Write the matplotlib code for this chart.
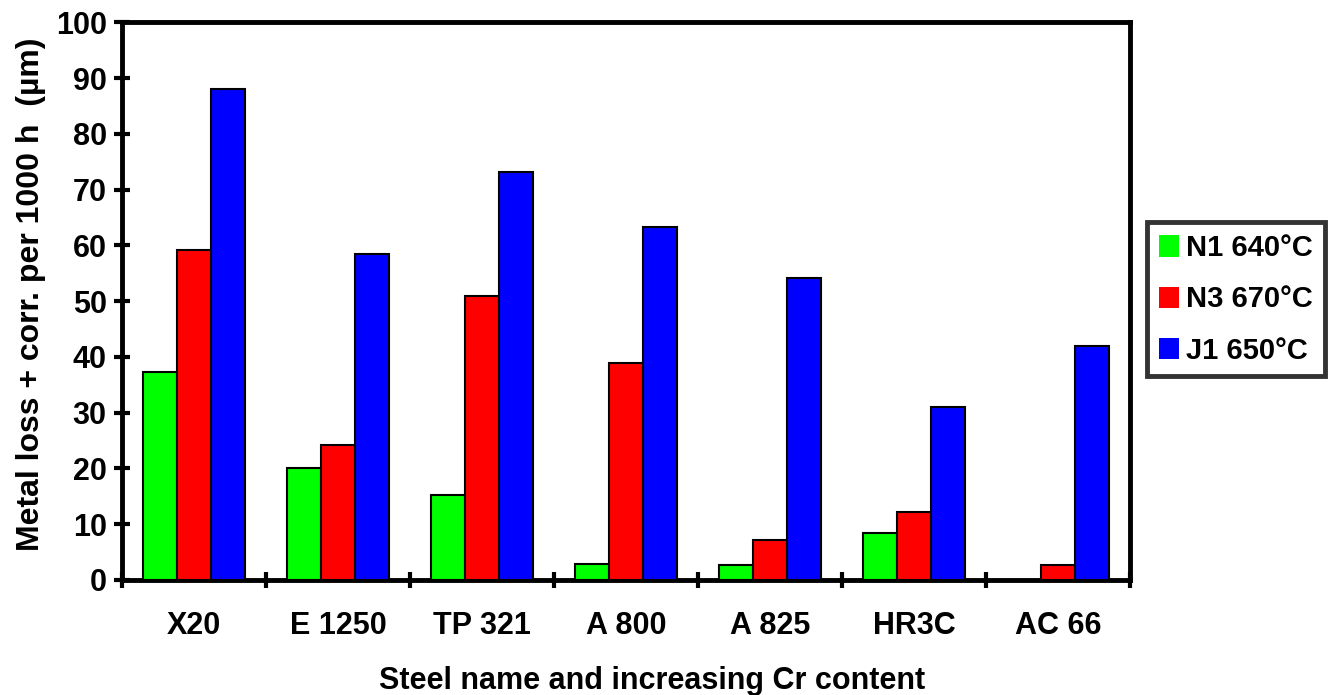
import matplotlib
matplotlib.use("Agg")
import matplotlib.pyplot as plt
import numpy as np

plt.rcParams['font.family'] = ['Liberation Sans', 'DejaVu Sans']
plt.rcParams['font.weight'] = 'bold'

categories = ["X20", "E 1250", "TP 321", "A 800", "A 825", "HR3C", "AC 66"]
series_names = ["N1 640°C", "N3 670°C", "J1 650°C"]
n1 = [37.2, 20.0, 15.2, 2.8, 2.7, 8.4, 0.0]
n3 = [59.2, 24.2, 51.0, 38.9, 7.2, 12.2, 2.7]
j1 = [88.0, 58.4, 73.1, 63.3, 54.1, 31.1, 42.0]
colors = ["#00ff00", "#ff0000", "#0000ff"]
yticks = list(range(0, 101, 10))

fig = plt.figure(figsize=(13.3, 6.95), dpi=100)
ax = fig.add_axes([0.0917, 0.1655, 0.7579, 0.8025])

x = np.arange(len(categories))
w = 0.235
for i, (vals, c, name) in enumerate(zip([n1, n3, j1], colors, series_names)):
    ax.bar(x + (i - 1) * w, vals, width=w, color=c, edgecolor='black',
           linewidth=1.5, label=name, zorder=3)

ax.set_xlim(-0.5, len(categories) - 0.5)
ax.set_ylim(0, 100)
ax.set_yticks(yticks)
ax.set_yticklabels([str(t) for t in yticks], fontsize=22, fontweight='bold')
ax.set_xticks(x)
ax.set_xticklabels(categories, fontsize=22, fontweight='bold')
ax.set_xticks(np.arange(len(categories) + 1) - 0.5, minor=True)
ax.tick_params(axis='x', which='major', length=0, pad=22)
ax.tick_params(axis='x', which='minor', length=12, width=3, direction='inout')
ax.tick_params(axis='y', which='major', length=12, width=3, direction='inout', pad=5)
for s in ax.spines.values():
    s.set_linewidth(3.5)

ax.set_ylabel("Metal loss + corr. per 1000 h  (µm)", fontsize=23, fontweight='bold')
ax.yaxis.set_label_coords(-0.075, 0.513)
ax.set_xlabel("Steel name and increasing Cr content", fontsize=22, fontweight='bold')
ax.xaxis.set_label_coords(0.5256, -0.155)

leg = ax.legend(loc='upper left', bbox_to_anchor=(1.017, 0.641),
                frameon=True, fancybox=False, edgecolor='black', handlelength=0.7,
                handleheight=0.75, handletextpad=0.25, labelspacing=0.8, borderpad=0.4,
                borderaxespad=0.0, prop={'weight': 'bold', 'size': 21})
leg.get_frame().set_linewidth(3.5)
for h in leg.legend_handles:
    h.set_linewidth(0)

fig.savefig("out.png", dpi=100)
